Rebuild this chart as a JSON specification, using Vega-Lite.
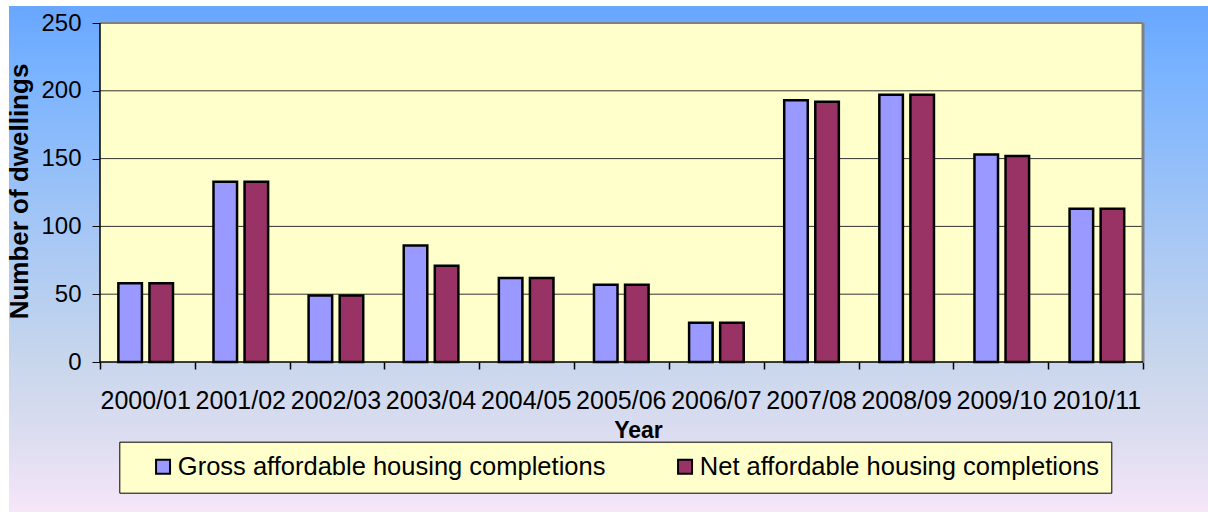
{
  "$schema": "https://vega.github.io/schema/vega-lite/v6.json",
  "width": 1199,
  "height": 506,
  "autosize": {"type": "none"},
  "padding": {"left": 9, "top": 6, "right": 0, "bottom": 3},
  "background": "white",
  "resolve": {"scale": {"x": "independent"}, "axis": {"x": "independent"}},
  "layer": [
    {
      "layer": [
        {
          "data": {"values": [{}]},
          "mark": {"type": "rect", "fill": "#FFFFCC"},
          "encoding": {
            "x": {"datum": -0.5, "type": "quantitative", "scale": {"domain": [-1.4597, 11.1855], "nice": false, "zero": false}, "axis": null},
            "x2": {"datum": 10.5},
            "y": {"datum": 0, "type": "quantitative"},
            "y2": {"datum": 250}
          }
        },
        {
          "data": {"values": [{"g": 50}, {"g": 100}, {"g": 150}, {"g": 200}]},
          "mark": {"type": "rule", "color": "#333333", "strokeWidth": 1},
          "encoding": {
            "x": {"datum": -0.5, "type": "quantitative", "axis": null},
            "x2": {"datum": 10.5},
            "y": {"field": "g", "type": "quantitative"}
          }
        },
        {
          "data": {"values": [{}]},
          "mark": {"type": "rule", "color": "#808080", "strokeWidth": 2},
          "encoding": {
            "x": {"datum": -0.5, "type": "quantitative", "axis": null},
            "x2": {"datum": 10.5},
            "y": {"datum": 250, "type": "quantitative"}
          }
        },
        {
          "data": {"values": [{}]},
          "mark": {"type": "rule", "color": "#808080", "strokeWidth": 3},
          "encoding": {
            "x": {"datum": 10.5, "type": "quantitative", "axis": null},
            "y": {"datum": 0, "type": "quantitative"},
            "y2": {"datum": 250}
          }
        }
      ]
    },
    {
      "data": {
        "values": [
          {"year": "2000/01", "series": "Gross affordable housing completions", "value": 58},
          {"year": "2000/01", "series": "Net affordable housing completions", "value": 58},
          {"year": "2001/02", "series": "Gross affordable housing completions", "value": 133},
          {"year": "2001/02", "series": "Net affordable housing completions", "value": 133},
          {"year": "2002/03", "series": "Gross affordable housing completions", "value": 49},
          {"year": "2002/03", "series": "Net affordable housing completions", "value": 49},
          {"year": "2003/04", "series": "Gross affordable housing completions", "value": 86},
          {"year": "2003/04", "series": "Net affordable housing completions", "value": 71},
          {"year": "2004/05", "series": "Gross affordable housing completions", "value": 62},
          {"year": "2004/05", "series": "Net affordable housing completions", "value": 62},
          {"year": "2005/06", "series": "Gross affordable housing completions", "value": 57},
          {"year": "2005/06", "series": "Net affordable housing completions", "value": 57},
          {"year": "2006/07", "series": "Gross affordable housing completions", "value": 29},
          {"year": "2006/07", "series": "Net affordable housing completions", "value": 29},
          {"year": "2007/08", "series": "Gross affordable housing completions", "value": 193},
          {"year": "2007/08", "series": "Net affordable housing completions", "value": 192},
          {"year": "2008/09", "series": "Gross affordable housing completions", "value": 197},
          {"year": "2008/09", "series": "Net affordable housing completions", "value": 197},
          {"year": "2009/10", "series": "Gross affordable housing completions", "value": 153},
          {"year": "2009/10", "series": "Net affordable housing completions", "value": 152},
          {"year": "2010/11", "series": "Gross affordable housing completions", "value": 113},
          {"year": "2010/11", "series": "Net affordable housing completions", "value": 113}
        ]
      },
      "mark": {"type": "bar", "stroke": "black", "strokeWidth": 2.5},
      "encoding": {
        "x": {
          "field": "year", "type": "nominal", "sort": null,
          "scale": {"domain": ["2000/01", "2001/02", "2002/03", "2003/04", "2004/05", "2005/06", "2006/07", "2007/08", "2008/09", "2009/10", "2010/11"], "paddingInner": 0.395, "paddingOuter": 1.0201, "align": 0.5672, "round": false},
          "axis": {"orient": "bottom", "title": "Year", "offset": -150, "domain": false, "grid": false, "ticks": false, "labelAngle": 0, "labelFontSize": 25, "labelPadding": 26, "labelColor": "black", "labelOverlap": false, "titleFontSize": 23, "titleFontWeight": "bold", "titleColor": "black", "titlePadding": 6, "titleX": 629}
        },
        "xOffset": {
          "field": "series", "type": "nominal",
          "sort": ["Gross affordable housing completions", "Net affordable housing completions"],
          "scale": {"paddingInner": 0.242, "paddingOuter": 0.047}
        },
        "y": {
          "field": "value", "type": "quantitative",
          "scale": {"domain": [-110.62, 262.54], "nice": false, "zero": false},
          "axis": {"title": "Number of dwellings", "offset": -91, "values": [0, 50, 100, 150, 200, 250], "domain": false, "grid": false, "tickSize": 8, "tickColor": "black", "labelFontSize": 24, "labelPadding": 11, "labelColor": "black", "titleFontSize": 26, "titleFontWeight": "bold", "titleColor": "black", "titlePadding": 8, "titleY": 185}
        },
        "color": {
          "field": "series", "type": "nominal",
          "scale": {"domain": ["Gross affordable housing completions", "Net affordable housing completions"], "range": ["#9999FF", "#993366"]},
          "legend": {"title": null, "orient": "none", "legendX": 110.3, "legendY": 435.7, "direction": "horizontal", "columns": 2, "fillColor": "#FFFFCC", "strokeColor": "black", "padding": 12, "symbolType": "square", "symbolSize": 196, "symbolStrokeColor": "black", "symbolStrokeWidth": 2, "symbolOpacity": 1, "symbolOffset": 19, "labelOffset": 2, "columnPadding": 47, "labelFontSize": 25.5, "labelColor": "black", "labelLimit": 700}
        }
      }
    },
    {
      "data": {"values": [{}]},
      "mark": {"type": "rule", "color": "black", "strokeWidth": 1.5},
      "encoding": {
        "x": {"datum": -0.5, "type": "quantitative", "scale": {"domain": [-1.4597, 11.1855], "nice": false, "zero": false}, "axis": null},
        "y": {"datum": 0, "type": "quantitative"},
        "y2": {"datum": 250}
      }
    },
    {
      "data": {"values": [{}]},
      "mark": {"type": "rule", "color": "black", "strokeWidth": 1.5},
      "encoding": {
        "x": {"datum": -0.5, "type": "quantitative", "scale": {"domain": [-1.4597, 11.1855], "nice": false, "zero": false},
          "axis": {"orient": "bottom", "title": null, "values": [-0.5, 0.5, 1.5, 2.5, 3.5, 4.5, 5.5, 6.5, 7.5, 8.5, 9.5, 10.5], "labels": false, "domain": false, "grid": false, "ticks": true, "tickSize": 7, "tickWidth": 1.5, "tickColor": "black", "offset": -150}},
        "x2": {"datum": 10.5},
        "y": {"datum": 0, "type": "quantitative"}
      }
    }
  ],
  "config": {
    "font": "Liberation Sans",
    "view": {
      "stroke": null,
      "fill": {"gradient": "linear", "x1": 0, "y1": 0, "x2": 0, "y2": 1, "stops": [{"offset": 0, "color": "#68A6FF"}, {"offset": 0.12, "color": "#78B2FF"}, {"offset": 0.45, "color": "#A6C7F5"}, {"offset": 0.7, "color": "#C8D6EC"}, {"offset": 0.85, "color": "#DCDDF0"}, {"offset": 1, "color": "#F6E6F8"}]}
    }
  }
}
